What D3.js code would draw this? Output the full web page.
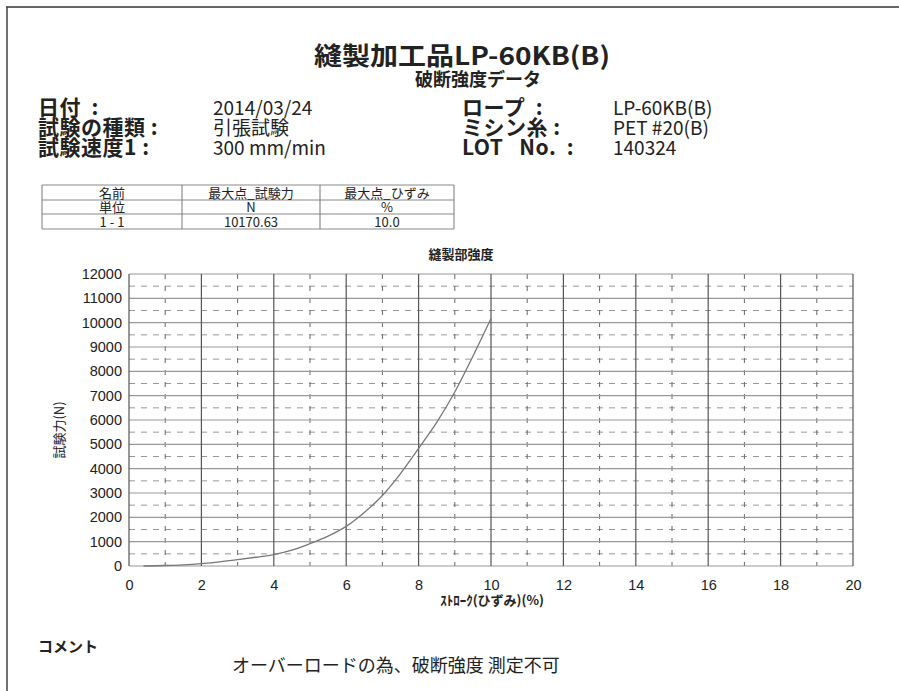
<!DOCTYPE html>
<html>
<head>
<meta charset="utf-8">
<script src="https://cdn.jsdelivr.net/npm/d3@7"></script>
<style>
  body { margin: 0; background: #fff; }
  svg text { font-family: "Liberation Sans", "Noto Sans CJK JP", sans-serif; fill: #222; }
  .jp { font-family: "Noto Sans CJK JP", sans-serif; }
</style>
</head>
<body>
<div id="chart"></div>
<script>
'use strict';

// curve data: stroke (%) vs force (N)
const strain = [0.4, 1, 1.5, 2, 2.5, 3, 3.5, 4, 4.5, 5, 5.5, 6, 6.5, 7, 7.5, 8, 8.5, 9, 9.5, 10];
const force  = [0, 20, 50, 100, 170, 260, 360, 470, 650, 920, 1230, 1630, 2200, 2900, 3800, 4830, 5900, 7150, 8620, 10170];

const xTicks = [0, 2, 4, 6, 8, 10, 12, 14, 16, 18, 20];
const yTicks = [0, 1000, 2000, 3000, 4000, 5000, 6000, 7000, 8000, 9000, 10000, 11000, 12000];

// header info
const infoLeftLabels  = ['日付  :', '試験の種類 :', '試験速度1 :'];
const infoLeftValues  = ['2014/03/24', '引張試験', '300 mm/min'];
const infoRightLabels = ['ロープ  :', 'ミシン糸 :', 'LOT   No.  :'];
const infoRightValues = ['LP-60KB(B)', 'PET #20(B)', '140324'];

// result table (one array per column)
const tableCol1 = ['名前', '単位', '1 - 1'];
const tableCol2 = ['最大点_試験力', 'N', '10170.63'];
const tableCol3 = ['最大点_ひずみ', '%', '10.0'];

const W = 899, H = 691;
const svg = d3.select('#chart').append('svg')
    .attr('width', W)
    .attr('height', H);

// page frame
svg.append('line').attr('x1', 6).attr('x2', W).attr('y1', 7).attr('y2', 7)
    .attr('stroke', '#666').attr('stroke-width', 2);
svg.append('line').attr('x1', 7).attr('x2', 7).attr('y1', 7).attr('y2', H)
    .attr('stroke', '#444').attr('stroke-width', 1.5);

// titles (one block, two lines)
const title = svg.append('text').attr('class', 'jp')
    .attr('text-anchor', 'middle')
    .attr('font-weight', 'bold');
title.append('tspan')
    .attr('x', 462).attr('y', 65)
    .attr('font-size', 25)
    .attr('textLength', 296).attr('lengthAdjust', 'spacingAndGlyphs')
    .text('縫製加工品LP-60KB(B)');
title.append('tspan')
    .attr('x', 478).attr('y', 86)
    .attr('font-size', 18)
    .text('破断強度データ');

// info block: each column is one text with a line per row
const rowY = [115, 135, 155];
function column(lines, xPos, size, bold) {
    const t = svg.append('text').attr('class', 'jp')
        .attr('font-size', size)
        .attr('font-weight', bold ? 'bold' : 'normal')
        .style('white-space', 'pre');
    lines.forEach((s, i) => {
        t.append('tspan').attr('x', xPos).attr('y', rowY[i]).text(s);
    });
    return t;
}
column(infoLeftLabels, 38, 21, true).attr('letter-spacing', 0.5);
column(infoLeftValues, 213, 19, false);
column(infoRightLabels, 462, 21, true).attr('letter-spacing', 0.5);
column(infoRightValues, 613, 19, false);

// table
const colX = [42, 182, 320, 454];
const rowLines = [185, 200, 214, 229];
const tbl = svg.append('g');
rowLines.forEach(yy => {
    tbl.append('line').attr('x1', colX[0]).attr('x2', colX[3]).attr('y1', yy).attr('y2', yy)
        .attr('stroke', '#888').attr('stroke-width', 1);
});
colX.forEach(xx => {
    tbl.append('line').attr('x1', xx).attr('x2', xx).attr('y1', rowLines[0]).attr('y2', rowLines[3])
        .attr('stroke', '#777').attr('stroke-width', 1);
});
[tableCol1, tableCol2, tableCol3].forEach((col, c) => {
    const t = tbl.append('text').attr('class', 'jp')
        .attr('text-anchor', 'middle')
        .attr('font-size', 13);
    col.forEach((s, r) => {
        t.append('tspan')
            .attr('x', (colX[c] + colX[c + 1]) / 2)
            .attr('y', rowLines[r + 1] - 2.5)
            .text(s);
    });
});

// chart area
const plot = { left: 129, right: 853, top: 274, bottom: 566 };
const x = d3.scaleLinear().domain([0, 20]).range([plot.left, plot.right]);
const y = d3.scaleLinear().domain([0, 12000]).range([plot.bottom, plot.top]);

const grid = svg.append('g');
// dashed minor grid
grid.selectAll('.hmin').data(d3.range(500, 12000, 1000)).join('line')
    .attr('x1', plot.left).attr('x2', plot.right)
    .attr('y1', d => y(d)).attr('y2', d => y(d))
    .attr('stroke', '#999').attr('stroke-width', 1).attr('stroke-dasharray', '6,6');
grid.selectAll('.vmin').data(d3.range(1, 20, 2)).join('line')
    .attr('x1', d => x(d)).attr('x2', d => x(d))
    .attr('y1', plot.top).attr('y2', plot.bottom)
    .attr('stroke', '#666').attr('stroke-width', 1).attr('stroke-dasharray', '5,7');
// solid major grid
grid.selectAll('.hmaj').data(yTicks).join('line')
    .attr('x1', plot.left).attr('x2', plot.right)
    .attr('y1', d => y(d)).attr('y2', d => y(d))
    .attr('stroke', '#999').attr('stroke-width', 1.2);
grid.selectAll('.vmaj').data(xTicks).join('line')
    .attr('x1', d => x(d)).attr('x2', d => x(d))
    .attr('y1', plot.top).attr('y2', plot.bottom)
    .attr('stroke', '#555').attr('stroke-width', 1.2);

// axes (labels only)
const xAxis = svg.append('g')
    .attr('transform', `translate(0,${plot.bottom})`)
    .call(d3.axisBottom(x).tickValues(xTicks).tickFormat(d3.format('d')).tickSize(0).tickPadding(14));
const yAxis = svg.append('g')
    .attr('transform', `translate(${plot.left},0)`)
    .call(d3.axisLeft(y).tickValues(yTicks).tickFormat(d3.format('d')).tickSize(0).tickPadding(7));
[xAxis, yAxis].forEach(a => {
    a.select('.domain').remove();
    a.selectAll('text')
        .attr('font-family', '"Liberation Sans", sans-serif')
        .attr('font-size', 14.5).attr('fill', '#222');
});

// curve
const pts = strain.map((s, i) => [s, force[i]]);
svg.append('path')
    .datum(pts)
    .attr('fill', 'none')
    .attr('stroke', '#777')
    .attr('stroke-width', 1.3)
    .attr('d', d3.line().x(d => x(d[0])).y(d => y(d[1])).curve(d3.curveMonotoneX));

// chart labels
svg.append('text').attr('class', 'jp')
    .attr('x', 461).attr('y', 259)
    .attr('text-anchor', 'middle')
    .attr('font-size', 13).attr('font-weight', 'bold')
    .text('縫製部強度');
svg.append('text').attr('class', 'jp')
    .attr('transform', 'translate(64,430) rotate(-90)')
    .attr('text-anchor', 'middle')
    .attr('font-size', 13)
    .text('試験力(N)');
svg.append('text').attr('class', 'jp')
    .attr('x', 492).attr('y', 605)
    .attr('text-anchor', 'middle')
    .attr('font-size', 13).attr('font-weight', 'bold')
    .text('ｽﾄﾛｰｸ(ひずみ)(%)');

// comment
svg.append('text').attr('class', 'jp')
    .attr('x', 38).attr('y', 652)
    .attr('font-size', 15).attr('font-weight', 'bold')
    .text('コメント');
svg.append('text').attr('class', 'jp')
    .attr('x', 232).attr('y', 672)
    .attr('font-size', 18)
    .text('オーバーロードの為、破断強度 測定不可');
</script>
</body>
</html>
